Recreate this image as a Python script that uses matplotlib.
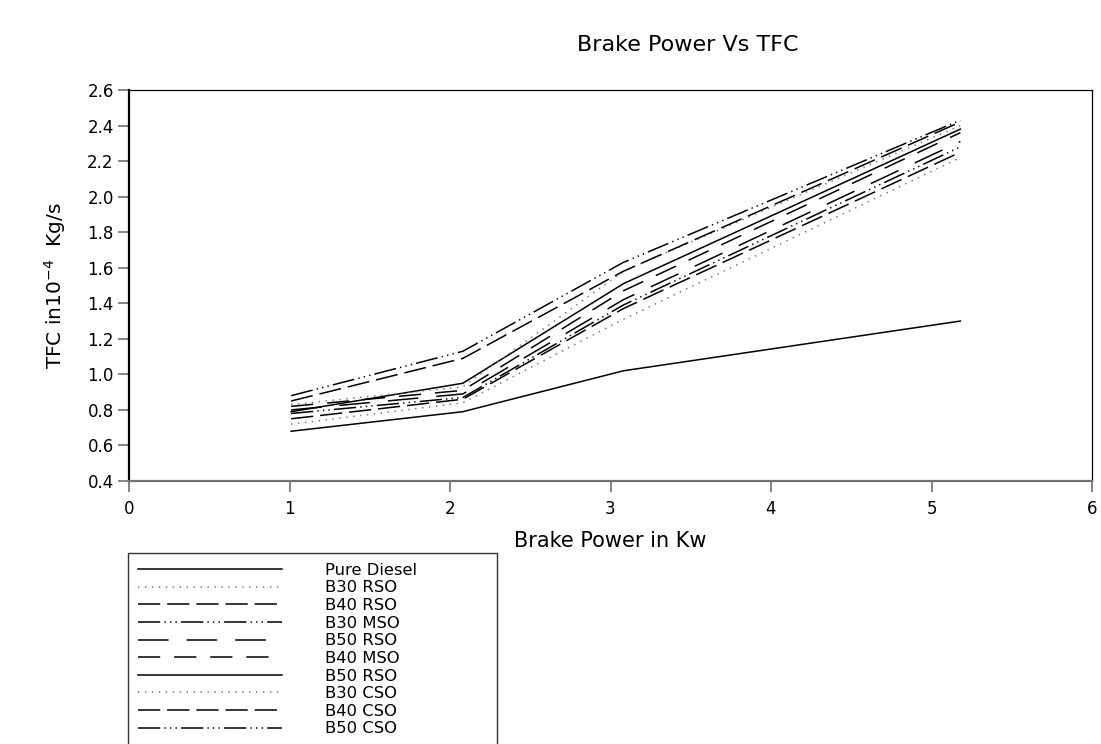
import matplotlib
matplotlib.use("Agg")
import matplotlib.pyplot as plt

plt.rcParams['font.family'] = ['DejaVu Sans']
plt.rcParams['lines.scale_dashes'] = False

brake_power = [1.01, 2.08, 3.08, 5.18]
series_names = ["Pure Diesel", "B30 RSO", "B40 RSO", "B30 MSO", "B50 RSO",
                "B40 MSO", "B50 RSO", "B30 CSO", "B40 CSO", "B50 CSO"]
pure_diesel = [0.68, 0.79, 1.02, 1.30]
b30_rso = [0.72, 0.84, 1.31, 2.22]
b40_rso = [0.75, 0.86, 1.37, 2.25]
b30_mso = [0.78, 0.87, 1.39, 2.28]
b50_rso_a = [0.80, 0.89, 1.42, 2.31]
b40_mso = [0.82, 0.91, 1.47, 2.36]
b50_rso_b = [0.79, 0.95, 1.51, 2.38]
b30_cso = [0.83, 0.93, 1.58, 2.40]
b40_cso = [0.85, 1.09, 1.58, 2.42]
b50_cso = [0.88, 1.13, 1.63, 2.43]
values = [pure_diesel, b30_rso, b40_rso, b30_mso, b50_rso_a,
          b40_mso, b50_rso_b, b30_cso, b40_cso, b50_cso]

pink = "#9a5a88"
styles = [
    dict(color="black", linestyle="-"),
    dict(color=pink, linestyle=(0, (1, 4))),
    dict(color="black", linestyle=(0, (16, 5))),
    dict(color="black", linestyle=(0, (16, 3, 1, 3, 1, 3, 1, 3))),
    dict(color="black", linestyle=(0, (22, 13))),
    dict(color="black", linestyle=(0, (16, 10))),
    dict(color="black", linestyle="-"),
    dict(color=pink, linestyle=(0, (1, 4))),
    dict(color="black", linestyle=(0, (16, 5))),
    dict(color="black", linestyle=(0, (16, 3, 1, 3, 1, 3, 1, 3))),
]

fig = plt.figure(figsize=(11.01, 7.44), dpi=100)
ax = fig.add_axes([129/1101, 263/744, 963/1101, 391/744])

for name, vals, st in zip(series_names, values, styles):
    ax.plot(brake_power, vals, linewidth=1.1, label=name, **st)

ax.set_xlim(0, 6)
ax.set_ylim(0.4, 2.6)
ax.set_xticks(range(0, 7))
ax.set_yticks([0.4 + 0.2*i for i in range(12)])
ax.set_yticklabels([f"{0.4 + 0.2*i:.1f}" for i in range(12)])
ax.tick_params(direction="out", length=8, width=1.2, color="#707070",
               labelsize=12, pad=3)
ax.tick_params(axis="x", pad=6)
for s in ["top", "right"]:
    ax.spines[s].set_linewidth(0.9)
ax.spines["left"].set_linewidth(1.6)
ax.spines["bottom"].set_linewidth(1.6)
ax.spines["bottom"].set_color("#707070")

ax.set_xlabel("Brake Power in Kw", fontsize=15, labelpad=9)
ax.set_ylabel(r"TFC in10$^{-4}$  Kg/s", fontsize=14.5, labelpad=14)

fig.text(688/1101, 1 - 45/744, "Brake Power Vs TFC", ha="center", va="center",
         fontsize=16)

leg = ax.legend(loc="upper left",
                bbox_to_anchor=(128/1101, 1 - 553/744 - 0.5, 369/1101, 0.5),
                bbox_transform=fig.transFigure, mode="expand",
                frameon=True, fancybox=False,
                edgecolor="black", fontsize=11.8, handlelength=8.8,
                handletextpad=2.6, labelspacing=0.16, borderpad=0.6,
                borderaxespad=0)
leg.get_frame().set_linewidth(1.0)

fig.savefig("out.png", dpi=100)
